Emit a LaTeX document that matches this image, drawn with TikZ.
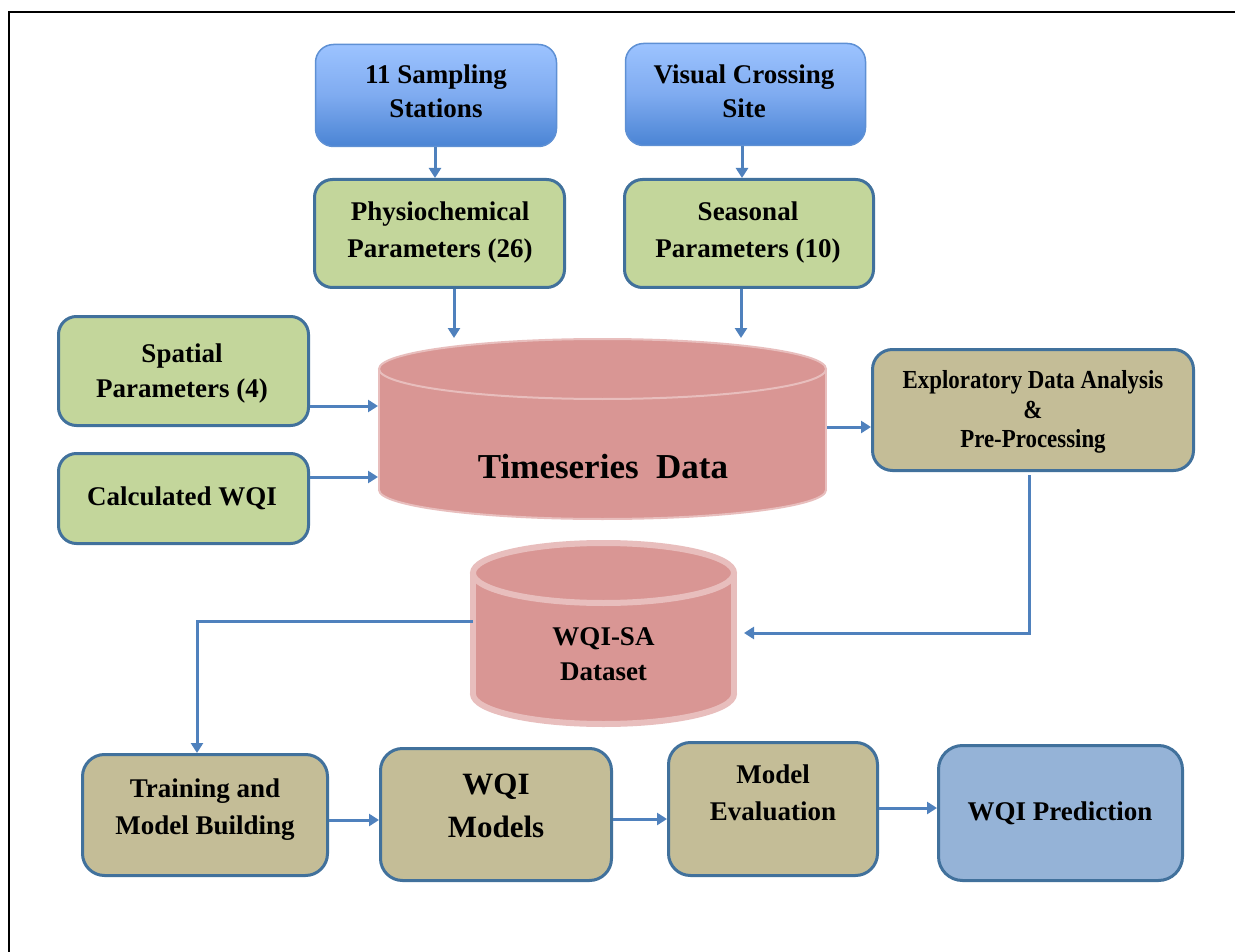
\documentclass[tikz,border=0pt]{standalone}
\usepackage{fontspec}
\setmainfont{Liberation Serif}
\newfontfamily\condserif{Liberation Serif}[FakeStretch=0.88]
\usetikzlibrary{arrows.meta,calc}
\definecolor{arrblue}{HTML}{4F81BD}
\definecolor{boxedge}{HTML}{41719C}
\definecolor{boxgreen}{HTML}{C3D69B}
\definecolor{boxtan}{HTML}{C4BD97}
\definecolor{boxpred}{HTML}{95B3D7}
\definecolor{blueTop}{HTML}{9CC3FF}
\definecolor{blueMid}{HTML}{7FABF0}
\definecolor{blueBot}{HTML}{4A84D4}
\definecolor{blueedge}{HTML}{5E90D4}
\definecolor{cylfill}{HTML}{D99694}
\definecolor{cyledge}{HTML}{E8BEBD}
\begin{document}
\begin{tikzpicture}[x=1pt,y=-1pt,
  box/.style={rectangle, rounded corners=18pt, line width=3pt, draw=boxedge, inner sep=0pt},
  greenbox/.style={box, fill=boxgreen},
  tanbox/.style={box, fill=boxtan, rounded corners=22pt},
  predbox/.style={box, fill=boxpred, rounded corners=24pt},
  bluebox/.style={box, line width=1.5pt, draw=blueedge, top color=blueTop, bottom color=blueBot, middle color=blueMid},
  anchorbox/.style={rectangle, inner sep=0pt, outer sep=0pt},
  lbl/.style={inner sep=0pt, anchor=base, font=\fontsize{27}{33}\selectfont\bfseries},
  biglbl/.style={lbl, font=\fontsize{31}{36}\selectfont\bfseries},
  condlbl/.style={inner sep=0pt, anchor=base, font=\fontsize{26}{30}\selectfont\condserif\bfseries},
  arr/.style={draw=arrblue, line width=3pt, -{Triangle[length=10pt,width=12pt]}},
  cylbody/.style={fill=cylfill}
]
\useasboundingbox (0,0) rectangle (1235,952);
\fill[white] (0,0) rectangle (1235,952);
\clip (0,0) rectangle (1235,952);

% frame
\draw[line width=2.5pt] (9,970) -- (9,12) -- (1250,12);

% top row
\node[bluebox, minimum width=241pt, minimum height=102pt] (s1) at (436,95.5) {};
\node[lbl] (s1a) at (436,84) {11 Sampling};
\node[lbl] (s1b) at (436,118) {Stations};
\node[bluebox, minimum width=240pt, minimum height=102pt] (s2) at (745.5,94.5) {};
\node[lbl] (s2a) at (744,84) {Visual Crossing};
\node[lbl] (s2b) at (744,118) {Site};

\node[greenbox, minimum width=250pt, minimum height=108pt] (physio) at (439.5,233.5) {};
\node[lbl] (p1) at (440,221) {Physiochemical};
\node[lbl] (p2) at (440,258) {Parameters (26)};
\node[greenbox, minimum width=249pt, minimum height=108pt] (seas) at (749,233.5) {};
\node[lbl] (q1) at (748,221) {Seasonal};
\node[lbl] (q2) at (748,258) {Parameters (10)};

\node[greenbox, minimum width=250pt, minimum height=109pt] (spatial) at (183.5,371) {};
\node[lbl] (sp1) at (182,362) {Spatial};
\node[lbl] (sp2) at (182,397) {Parameters (4)};
\node[greenbox, minimum width=250pt, minimum height=90pt] (calc) at (183.5,498.5) {};
\node[lbl] (c1) at (182,505) {Calculated WQI};

% Timeseries cylinder
\fill[cylbody] (602.5,490) ellipse [x radius=223.5pt, y radius=29pt];
\begin{scope}
  \clip (360,490) rectangle (840,530);
  \draw[cyledge, line width=2pt] (602.5,490) ellipse [x radius=223.5pt, y radius=29pt];
\end{scope}
\fill[cylbody] (379,369) rectangle (826,490);
\draw[cyledge, line width=2pt] (379,369) -- (379,490) (826,369) -- (826,490);
\fill[cylbody] (602.5,369) ellipse [x radius=223.5pt, y radius=30pt];
\draw[cyledge, line width=2pt] (602.5,369) ellipse [x radius=223.5pt, y radius=30pt];
\node[anchorbox, minimum width=449pt, minimum height=182pt] (ts) at (602.5,429) {};
\node[lbl, font=\fontsize{35}{40}\selectfont\bfseries] (tst) at (603,478) {Timeseries\ \ Data};

% EDA
\node[tanbox, rounded corners=20pt, minimum width=321pt, minimum height=121pt] (eda) at (1033,410) {};
\node[condlbl] (e1) at (1033,388) {Exploratory Data Analysis};
\node[condlbl] (e2) at (1033,418) {\&};
\node[condlbl] (e3) at (1033,447) {Pre-Processing};

% WQI-SA cylinder
\fill[cylbody, draw=cyledge, line width=6pt] (603.5,694) ellipse [x radius=130.5pt, y radius=30pt];
\fill[cylbody] (473,573) rectangle (734,694);
\draw[cyledge, line width=6pt] (473,573) -- (473,694) (734,573) -- (734,694);
\fill[cylbody, draw=cyledge, line width=6pt] (603.5,573) ellipse [x radius=130.5pt, y radius=30pt];
\node[anchorbox, minimum width=267pt, minimum height=187pt] (wqisa) at (603.5,633.5) {};
\node[lbl] (w1) at (603.5,645) {WQI-SA};
\node[lbl] (w2) at (603.5,680) {Dataset};

% bottom row
\node[tanbox, minimum width=245pt, minimum height=121pt] (train) at (205,815) {};
\node[lbl] (t1) at (205,797) {Training and};
\node[lbl] (t2) at (205,834) {Model Building};
\node[tanbox, minimum width=231pt, minimum height=132pt] (models) at (496,814.5) {};
\node[biglbl] (m1) at (496,794) {WQI};
\node[biglbl] (m2) at (496,837) {Models};
\node[tanbox, minimum width=209pt, minimum height=133pt] (eval) at (773,809) {};
\node[lbl] (v1) at (773,783) {Model};
\node[lbl] (v2) at (773,820) {Evaluation};
\node[predbox, minimum width=244pt, minimum height=135pt] (pred) at (1060.5,813) {};
\node[lbl] (r1) at (1060,820) {WQI Prediction};

% connectors
\draw[arr] (s1.south -| 435,0) -- (physio.north -| 435,0);
\draw[arr] (s2.south -| 742,0) -- (seas.north -| 742,0);
\draw[arr] (physio.south -| 454,0) -- (ts.north -| 454,0);
\draw[arr] (seas.south -| 741,0) -- (ts.north -| 741,0);
\draw[arr] (spatial.east |- 0,406) -- (ts.west |- 0,406);
\draw[arr] (calc.east |- 0,477) -- (ts.west |- 0,477);
\draw[arr] (ts.east |- 0,427) -- (eda.west |- 0,427);
\draw[arr] ([yshift=-3pt]eda.south -| 1029,0) |- ([xshift=7pt]wqisa.east |- 0,633);
\draw[arr] ([xshift=3pt]wqisa.west |- 0,621) -| (train.north -| 197,0);
\draw[arr] (train.east |- 0,820) -- (models.west |- 0,820);
\draw[arr] (models.east |- 0,819) -- (eval.west |- 0,819);
\draw[arr] (eval.east |- 0,808) -- (pred.west |- 0,808);
\end{tikzpicture}
\end{document}
